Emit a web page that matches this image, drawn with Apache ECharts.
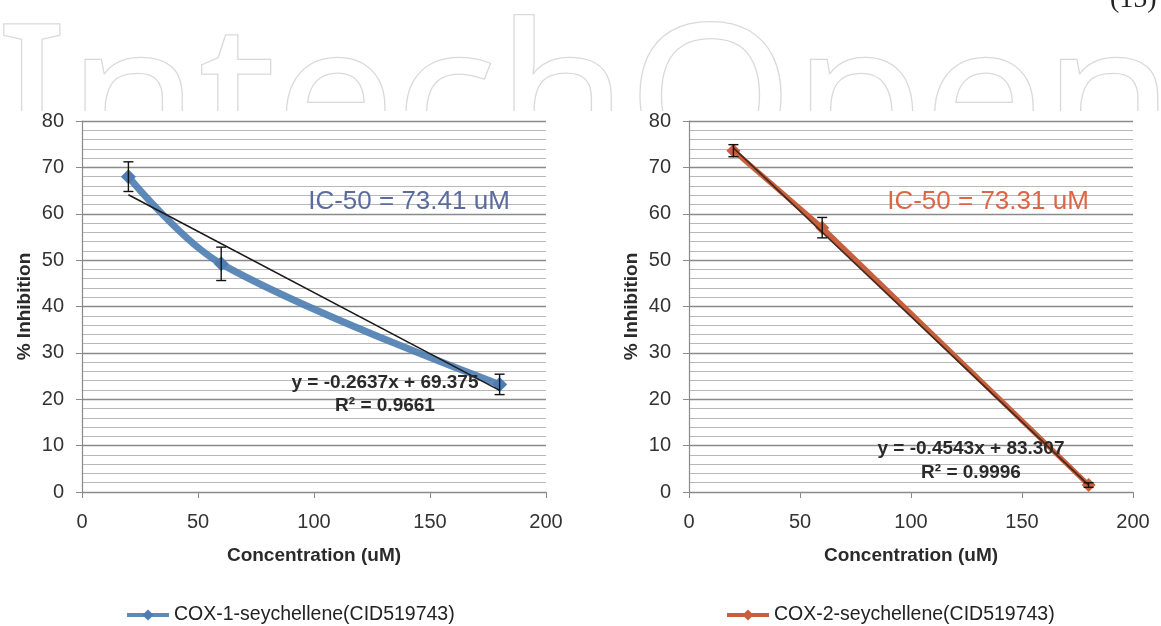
<!DOCTYPE html>
<html>
<head>
<meta charset="utf-8">
<script src="https://cdn.jsdelivr.net/npm/echarts@6/dist/echarts.min.js"></script>
<style>
  html, body { margin: 0; padding: 0; background: #fff; }
  #main { width: 1161px; height: 626px; }
</style>
</head>
<body>
<div id="main"></div>
<script>
// concentrations (uM)
var conc = [20, 60, 180];
var trendX = [20, 180];

// COX-1 seychellene
var cox1Mean = [68.0, 49.2, 23.2];
var cox1Low = [64.8, 45.6, 21.0];
var cox1High = [71.2, 52.8, 25.4];
var cox1Trend = [64.1, 21.9];

// COX-2 seychellene
var cox2Mean = [73.6, 57.0, 1.5];
var cox2Low = [72.3, 54.8, 1.0];
var cox2High = [74.9, 59.2, 2.0];
var cox2Trend = [74.2, 1.5];

var name1 = 'COX-1-seychellene(CID519743)';
var name2 = 'COX-2-seychellene(CID519743)';

var FONT = "'Liberation Sans', Arial, sans-serif";

function pairs(xs, ys) {
    return xs.map(function (x, i) { return [x, ys[i]]; });
}

function errorBars(idx) {
    return {
        type: 'custom',
        xAxisIndex: idx, yAxisIndex: idx,
        z: 5,
        silent: true,
        renderItem: function (params, api) {
            var x = api.value(0);
            var lo = api.coord([x, api.value(1)]);
            var hi = api.coord([x, api.value(2)]);
            var w = 5;
            var st = { stroke: '#111', lineWidth: 1.4 };
            return {
                type: 'group',
                children: [
                    { type: 'line', shape: { x1: lo[0], y1: lo[1], x2: hi[0], y2: hi[1] }, style: st },
                    { type: 'line', shape: { x1: lo[0] - w, y1: lo[1], x2: lo[0] + w, y2: lo[1] }, style: st },
                    { type: 'line', shape: { x1: hi[0] - w, y1: hi[1], x2: hi[0] + w, y2: hi[1] }, style: st }
                ]
            };
        }
    };
}

function xAxisCfg(idx) {
    return {
        type: 'value', gridIndex: idx,
        min: 0, max: 200, interval: 50,
        name: 'Concentration (uM)', nameLocation: 'middle', nameGap: 54,
        nameTextStyle: { fontFamily: FONT, fontWeight: 'bold', fontSize: 19, color: '#2a2a2a' },
        axisLine: { show: true, onZero: false, lineStyle: { color: '#8a8a8a', width: 1.2 } },
        axisTick: { show: true, inside: false, length: 6, lineStyle: { color: '#8a8a8a' } },
        axisLabel: { fontFamily: FONT, fontSize: 20, color: '#333', margin: 20 },
        splitLine: { show: false }
    };
}

function yAxisCfg(idx) {
    return {
        type: 'value', gridIndex: idx,
        min: 0, max: 80, interval: 10,
        name: '% Inhibition', nameLocation: 'middle', nameGap: 48, nameRotate: 90,
        nameTextStyle: { fontFamily: FONT, fontWeight: 'bold', fontSize: 19, color: '#2a2a2a' },
        axisLine: { show: true, lineStyle: { color: '#8a8a8a', width: 1.2 } },
        axisTick: { show: true, inside: false, length: 6, lineStyle: { color: '#8a8a8a' } },
        axisLabel: { fontFamily: FONT, fontSize: 20, color: '#333', margin: 18 },
        splitLine: { show: true, lineStyle: { color: '#8a8a8a', width: 1.4 } },
        minorTick: { show: false, splitNumber: 5 },
        minorSplitLine: { show: true, lineStyle: { color: '#b8b8b8', width: 1 } }
    };
}

var chart = echarts.init(document.getElementById('main'));

var option = {
    backgroundColor: '#fff',
    animation: false,
    grid: [
        { left: 82, top: 121, width: 464, height: 371 },
        { left: 689, top: 121, width: 444, height: 371 }
    ],
    xAxis: [xAxisCfg(0), xAxisCfg(1)],
    yAxis: [yAxisCfg(0), yAxisCfg(1)],
    legend: [
        {
            data: [name1], left: 120, top: 600,
            itemWidth: 42, itemHeight: 14, itemGap: 5,
            lineStyle: { width: 4 },
            textStyle: { fontFamily: FONT, fontSize: 19.5, color: '#222' }
        },
        {
            data: [name2], left: 720, top: 600,
            itemWidth: 42, itemHeight: 14, itemGap: 5,
            lineStyle: { width: 4 },
            textStyle: { fontFamily: FONT, fontSize: 19.5, color: '#222' }
        }
    ],
    graphic: [
        {
            type: 'text', z: -20, x: -4, y: 110, scaleX: 1.06,
            style: {
                text: 'IntechOpen', font: '200px "Noto Sans"',
                fill: '#fff', stroke: '#d9d9d9', lineWidth: 2.5,
                verticalAlign: 'middle'
            }
        },
        {
            type: 'rect', z: -15,
            shape: { x: 0, y: 111, width: 1161, height: 515 },
            style: { fill: '#fff' }
        },
        {
            type: 'text', z: 10, x: 1110, y: 14,
            style: { text: '(15)', font: '28px "Liberation Serif"', fill: '#222', verticalAlign: 'bottom' }
        },
        {
            type: 'text', z: 10, x: 409, y: 202,
            style: { text: 'IC-50 = 73.41 uM', font: '26px "Liberation Sans"', fill: '#5a6b9e', align: 'center', verticalAlign: 'middle' }
        },
        {
            type: 'text', z: 10, x: 988, y: 202,
            style: { text: 'IC-50 = 73.31 uM', font: '26px "Liberation Sans"', fill: '#dd6647', align: 'center', verticalAlign: 'middle' }
        },
        {
            type: 'text', z: 10, x: 385, y: 383,
            style: { text: 'y = -0.2637x + 69.375', font: 'bold 19px "Liberation Sans"', fill: '#2a2a2a', align: 'center', verticalAlign: 'middle' }
        },
        {
            type: 'text', z: 10, x: 385, y: 406,
            style: { text: 'R² = 0.9661', font: 'bold 19px "Liberation Sans"', fill: '#2a2a2a', align: 'center', verticalAlign: 'middle' }
        },
        {
            type: 'text', z: 10, x: 971, y: 449,
            style: { text: 'y = -0.4543x + 83.307', font: 'bold 19px "Liberation Sans"', fill: '#2a2a2a', align: 'center', verticalAlign: 'middle' }
        },
        {
            type: 'text', z: 10, x: 971, y: 473,
            style: { text: 'R² = 0.9996', font: 'bold 19px "Liberation Sans"', fill: '#2a2a2a', align: 'center', verticalAlign: 'middle' }
        }
    ],
    series: [
        {
            name: name1, type: 'line', xAxisIndex: 0, yAxisIndex: 0,
            data: pairs(conc, cox1Mean),
            smooth: 0.35,
            symbol: 'diamond', symbolSize: 15,
            itemStyle: { color: '#4d7db3' },
            lineStyle: { color: '#4d7db3', width: 7, opacity: 0.9 },
            z: 2
        },
        {
            name: 'trend1', type: 'line', xAxisIndex: 0, yAxisIndex: 0,
            data: pairs(trendX, cox1Trend),
            symbol: 'none',
            lineStyle: { color: '#1a1a1a', width: 1.5 },
            z: 4
        },
        Object.assign(errorBars(0), { name: 'err1', data: conc.map(function (x, i) { return [x, cox1Low[i], cox1High[i]]; }) }),
        {
            name: name2, type: 'line', xAxisIndex: 1, yAxisIndex: 1,
            data: pairs(conc, cox2Mean),
            symbol: 'diamond', symbolSize: 14,
            itemStyle: { color: '#c8603e' },
            lineStyle: { color: '#c8603e', width: 5 },
            z: 2
        },
        {
            name: 'trend2', type: 'line', xAxisIndex: 1, yAxisIndex: 1,
            data: pairs(trendX, cox2Trend),
            symbol: 'none',
            lineStyle: { color: '#4a2a1e', width: 1.8 },
            z: 4
        },
        Object.assign(errorBars(1), { name: 'err2', data: conc.map(function (x, i) { return [x, cox2Low[i], cox2High[i]]; }) })
    ]
};

chart.setOption(option);
</script>
</body>
</html>
